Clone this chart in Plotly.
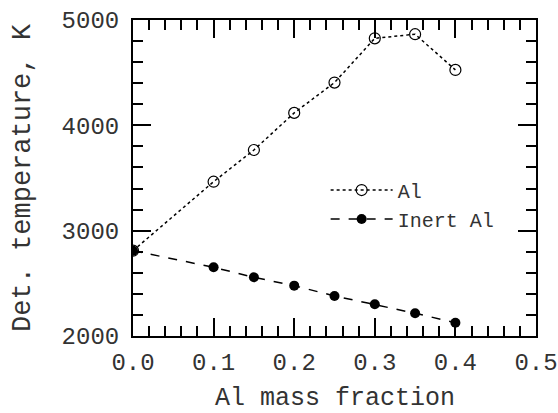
import plotly.graph_objects as go

al_x = [0.0, 0.1, 0.15, 0.2, 0.25, 0.3, 0.35, 0.4]
al_y = [2810, 3465, 3766, 4118, 4406, 4826, 4865, 4526]
inert_x = [0.0, 0.1, 0.15, 0.2, 0.25, 0.3, 0.35, 0.4]
inert_y = [2810, 2652, 2557, 2478, 2380, 2301, 2216, 2126]

x_ticks = [0.0, 0.1, 0.2, 0.3, 0.4, 0.5]
x_labels = ["0.0", "0.1", "0.2", "0.3", "0.4", "0.5"]
y_ticks = [2000, 3000, 4000, 5000]

FONT = "Liberation Mono, Courier New, monospace"

fig = go.Figure()
fig.add_trace(go.Scatter(
    x=al_x, y=al_y, name="Al", mode="lines+markers",
    line=dict(color="black", width=1.5, dash="dot"),
    marker=dict(symbol="circle-open", size=11, color="black", line=dict(width=1.2)),
))
fig.add_trace(go.Scatter(
    x=inert_x, y=inert_y, name="Inert Al", mode="lines+markers",
    line=dict(color="black", width=1.5, dash="dash"),
    marker=dict(symbol="circle", size=10, color="black"),
))

axis_common = dict(
    showline=True, linecolor="black", linewidth=2, mirror="allticks",
    ticks="inside", tickcolor="black", tickwidth=1.5, ticklen=18,
    showgrid=False, zeroline=False, automargin=False,
    tickfont=dict(family=FONT, size=24, color="#333"),
)
fig.update_xaxes(
    range=[0, 0.5], tickvals=x_ticks, ticktext=x_labels, ticklabelstandoff=3,
    minor=dict(ticks="inside", ticklen=10, tickwidth=1.5, tickcolor="black", dtick=0.02, showgrid=False),
    **axis_common,
)
fig.update_yaxes(
    range=[2000, 5000], tickvals=y_ticks, ticklabelstandoff=7,
    minor=dict(ticks="inside", ticklen=10, tickwidth=1.5, tickcolor="black", dtick=200, showgrid=False),
    title=dict(text="Det. temperature, K", font=dict(family=FONT, size=27, color="#333"), standoff=23),
    **axis_common,
)
fig.update_layout(
    width=558, height=413,
    margin=dict(l=133, r=22, t=20, b=77),
    paper_bgcolor="white", plot_bgcolor="white",
    showlegend=True,
    legend=dict(
        x=0.478, y=0.416, xanchor="left", yanchor="middle",
        bgcolor="rgba(0,0,0,0)", borderwidth=0,
        font=dict(family=FONT, size=20, color="#333"),
        itemwidth=62, tracegroupgap=0,
    ),
    annotations=[dict(
        text="Al mass fraction", xref="paper", yref="paper",
        x=0.5, y=-0.197, xanchor="center", yanchor="middle", showarrow=False,
        font=dict(family=FONT, size=25, color="#333"),
    )],
)
fig.write_html("out.html")
